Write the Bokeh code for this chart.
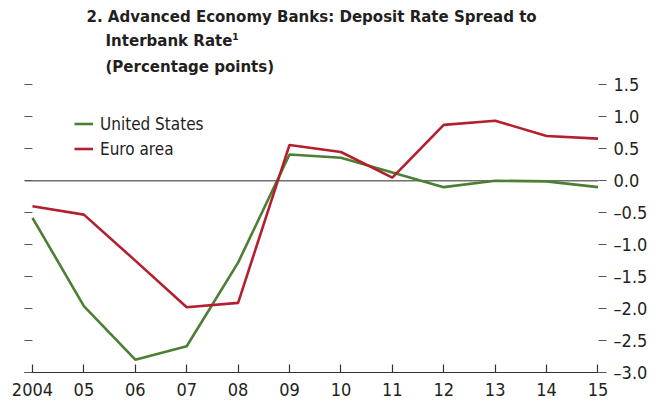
from bokeh.plotting import figure
from bokeh.models import LinearAxis, Span, Legend, LegendItem, Title, FixedTicker, Range1d
from bokeh.embed import file_html
from bokeh.resources import INLINE

years = [2004, 2005, 2006, 2007, 2008, 2009, 2010, 2011, 2012, 2013, 2014, 2015]
year_labels = ["2004", "05", "06", "07", "08", "09", "10", "11", "12", "13", "14", "15"]
us = [-0.58, -1.96, -2.80, -2.59, -1.28, 0.41, 0.36, 0.13, -0.10, 0.00, -0.01, -0.10]
euro = [-0.40, -0.53, -1.25, -1.98, -1.91, 0.56, 0.45, 0.05, 0.875, 0.94, 0.70, 0.66]
y_ticks = [1.5, 1.0, 0.5, 0.0, -0.5, -1.0, -1.5, -2.0, -2.5, -3.0]
y_tick_labels = ["1.5", "1.0", "0.5", "0.0", "\u20130.5", "\u20131.0", "\u20131.5",
                 "\u20132.0", "\u20132.5", "\u20133.0"]
series_names = ["United States", "Euro area"]
title_lines = ["2. Advanced Economy Banks: Deposit Rate Spread to",
               "Interbank Rate\u00b9", "(Percentage points)"]

FONT = "DejaVu Sans Condensed"
TEXT = "#231f20"
GREEN = "#4b7f33"
RED = "#b41f30"

p = figure(frame_width=574, frame_height=294, output_backend="svg", toolbar_location=None,
           x_range=Range1d(2003.845, 2015.01), y_range=Range1d(-3.0, 1.6),
           y_axis_location="right",
           min_border_left=24, min_border_right=62, min_border_top=78, min_border_bottom=32)
p.grid.visible = False
p.outline_line_color = None
p.background_fill_color = "white"

ry = p.right[0]
ry.ticker = FixedTicker(ticks=y_ticks)
ry.major_label_overrides = dict(zip(y_ticks, y_tick_labels))
ry.axis_line_color = None
ry.major_tick_in = 0
ry.major_tick_out = 8
ry.major_tick_line_color = "#555555"
ry.major_tick_line_width = 1.2
ry.minor_tick_line_color = None
ry.major_label_standoff = 7
ry.major_label_text_font = FONT
ry.major_label_text_font_size = "18px"
ry.major_label_text_color = TEXT

ly = LinearAxis(ticker=FixedTicker(ticks=y_ticks), axis_line_color=None,
                major_tick_in=8, major_tick_out=0, major_tick_line_color="#555555",
                major_tick_line_width=1.2, minor_tick_line_color=None,
                major_label_overrides={t: "" for t in y_ticks}, major_label_standoff=0)
p.add_layout(ly, "left")

xa = p.xaxis[0]
xa.ticker = FixedTicker(ticks=years)
xa.major_label_overrides = dict(zip(years, year_labels))
xa.axis_line_color = "#333333"
xa.axis_line_width = 1.2
xa.major_tick_in = 8
xa.major_tick_out = 0
xa.major_tick_line_color = "#333333"
xa.major_tick_line_width = 1.2
xa.minor_tick_line_color = None
xa.major_label_standoff = 10
xa.major_label_text_font = FONT
xa.major_label_text_font_size = "18px"
xa.major_label_text_color = TEXT

p.add_layout(Span(location=0, dimension="width", line_color="#707070",
                  line_width=1.3, level="underlay"))

r_us = p.line(years, us, line_color=GREEN, line_width=2.6)
r_eu = p.line(years, euro, line_color=RED, line_width=2.6)

legend = Legend(items=[LegendItem(label=series_names[0], renderers=[r_us]),
                       LegendItem(label=series_names[1], renderers=[r_eu])],
                location=(50, 211), padding=0, margin=0, spacing=0,
                border_line_color=None, background_fill_alpha=0,
                glyph_width=19, glyph_height=25, label_height=25, label_standoff=7,
                label_text_font=FONT, label_text_font_size="17px",
                label_text_color=TEXT)
p.add_layout(legend)

for txt, off, so in [(title_lines[2], 81, 6), (title_lines[1], 81, 2), (title_lines[0], 62, 2)]:
    p.add_layout(Title(text=txt, align="left", offset=off, standoff=so,
                       text_font=FONT, text_font_style="bold", text_font_size="16.7px",
                       text_color=TEXT), "above")

open("out.html", "w").write(file_html(p, INLINE))
